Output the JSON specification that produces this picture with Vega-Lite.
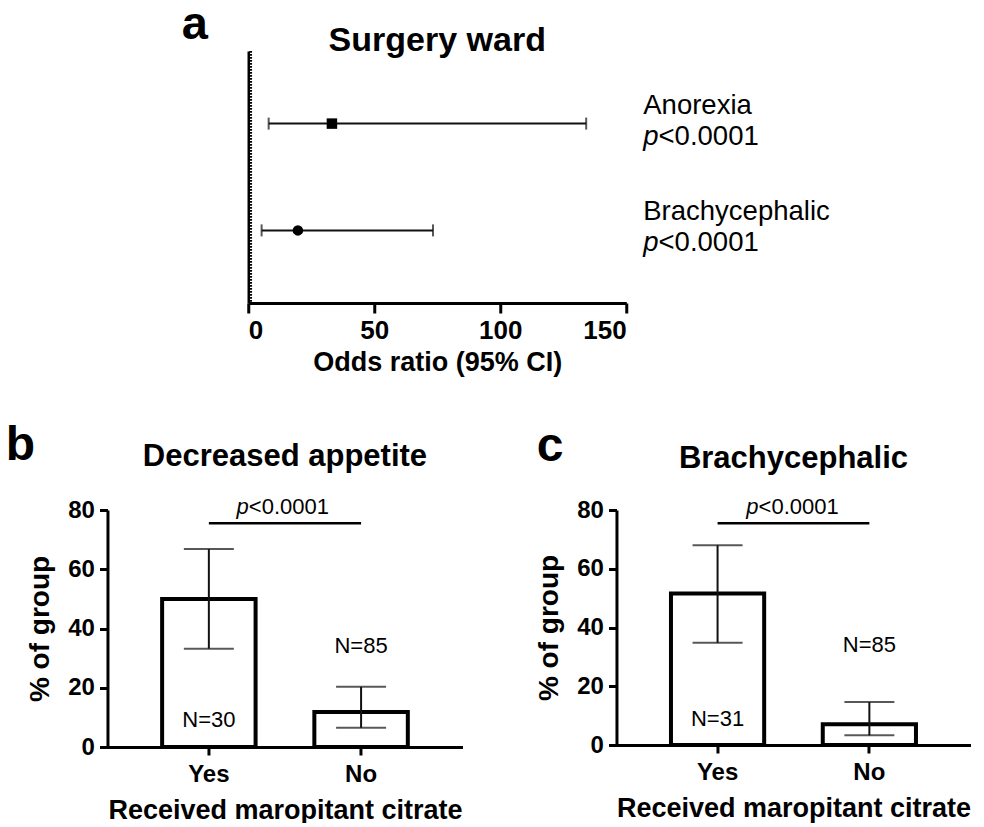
{
  "$schema": "https://vega.github.io/schema/vega-lite/v6.json",
  "background": "white",
  "padding": {"left": 5, "top": 1, "right": 0, "bottom": 0},
  "config": {
    "font": "Liberation Sans",
    "view": {"stroke": null},
    "axis": {"grid": false, "domainColor": "black", "domainWidth": 3, "tickColor": "black", "tickWidth": 3, "labelColor": "black", "labelFontWeight": "bold", "titleColor": "black", "titleFontWeight": "bold", "labelFont": "Liberation Sans", "titleFont": "Liberation Sans"},
    "title": {"color": "black", "fontWeight": "bold", "font": "Liberation Sans"},
    "text": {"font": "Liberation Sans", "color": "black"}
  },
  "datasets": {
    "forest": [
      {"outcome": "Anorexia", "odds_ratio": 33.2, "ci_low": 8.1, "ci_high": 134.1, "p": "<0.0001"},
      {"outcome": "Brachycephalic", "odds_ratio": 19.7, "ci_low": 5.3, "ci_high": 73.3, "p": "<0.0001"}
    ],
    "appetite": [
      {"received": "Yes", "percent": 50.0, "ci_low": 33.2, "ci_high": 66.8, "n": "N=30"},
      {"received": "No", "percent": 11.8, "ci_low": 6.5, "ci_high": 20.3, "n": "N=85"}
    ],
    "brachy": [
      {"received": "Yes", "percent": 51.6, "ci_low": 34.8, "ci_high": 68.0, "n": "N=31"},
      {"received": "No", "percent": 7.1, "ci_low": 3.3, "ci_high": 14.6, "n": "N=85"}
    ],
    "comparison": [
      {"group1": "Yes", "group2": "No", "p": "<0.0001"}
    ]
  },
  "center": true,
  "spacing": 46,
  "vconcat": [
    {
      "title": {"text": "a", "anchor": "start", "fontSize": 47, "baseline": "alphabetic", "dx": -65, "offset": -62},
      "vconcat": [
        {
          "width": 378,
          "height": 252,
          "title": {"text": "Surgery ward", "fontSize": 34, "baseline": "alphabetic", "offset": -35.5},
          "data": {"name": "forest"},
          "encoding": {
            "y": {"field": "outcome", "type": "nominal", "sort": ["Anorexia", "Brachycephalic"], "scale": {"type": "point", "padding": 0.68},
              "axis": {"title": null, "labels": false, "ticks": false, "domain": true, "domainWidth": 2.5}}
          },
          "layer": [
            {
              "mark": {"type": "rule", "strokeDash": [1.5, 1.5], "strokeWidth": 2.5, "color": "black"},
              "encoding": {
                "y": null,
                "x": {"datum": 1, "type": "quantitative", "scale": {"domain": [0, 150], "nice": false},
                  "axis": {"values": [0, 50, 100, 150], "title": "Odds ratio (95% CI)", "labelFontSize": 26, "titleFontSize": 27, "tickSize": 10, "labelPadding": 4, "titlePadding": 6}}
              }
            },
            {
              "mark": {"type": "rule", "strokeWidth": 2, "color": "#111"},
              "encoding": {
                "x": {"field": "ci_low", "type": "quantitative", "scale": {"domain": [0, 150], "nice": false}},
                "x2": {"field": "ci_high"}
              }
            },
            {
              "mark": {"type": "tick", "thickness": 2, "size": 12, "color": "#111"},
              "encoding": {
                "x": {"field": "ci_low", "type": "quantitative", "scale": {"domain": [0, 150], "nice": false}}
              }
            },
            {
              "mark": {"type": "tick", "thickness": 2, "size": 12, "color": "#111"},
              "encoding": {
                "x": {"field": "ci_high", "type": "quantitative", "scale": {"domain": [0, 150], "nice": false}}
              }
            },
            {
              "mark": {"type": "point", "filled": true, "opacity": 1, "color": "black", "size": 110},
              "encoding": {
                "x": {"field": "odds_ratio", "type": "quantitative", "scale": {"domain": [0, 150], "nice": false}},
                "shape": {"field": "outcome", "type": "nominal", "scale": {"domain": ["Anorexia", "Brachycephalic"], "range": ["square", "circle"]}, "legend": null}
              }
            },
            {
              "mark": {"type": "text", "align": "left", "baseline": "alphabetic", "dx": 17, "dy": -10, "fontSize": 27.5},
              "encoding": {
                "x": {"datum": 150, "type": "quantitative", "scale": {"domain": [0, 150], "nice": false}},
                "text": {"field": "outcome"}
              }
            },
            {
              "mark": {"type": "text", "align": "right", "baseline": "alphabetic", "dx": 32.3, "dy": 21, "fontSize": 27.5, "fontStyle": "italic"},
              "encoding": {
                "x": {"datum": 150, "type": "quantitative", "scale": {"domain": [0, 150], "nice": false}},
                "text": {"value": "p"}
              }
            },
            {
              "mark": {"type": "text", "align": "left", "baseline": "alphabetic", "dx": 32.3, "dy": 21, "fontSize": 27.5},
              "encoding": {
                "x": {"datum": 150, "type": "quantitative", "scale": {"domain": [0, 150], "nice": false}},
                "text": {"field": "p"}
              }
            }
          ]
        }
      ]
    },
    {
      "spacing": 73,
      "hconcat": [
        {
          "title": {"text": "b", "anchor": "start", "fontSize": 48, "baseline": "alphabetic", "dx": -21, "offset": -67},
          "vconcat": [
            {
              "width": 355,
              "height": 237,
              "title": {"text": "Decreased appetite", "fontSize": 31, "baseline": "alphabetic", "offset": -1},
              "encoding": {
                "x": {"field": "received", "type": "nominal", "scale": {"domain": ["Yes", "No"], "paddingInner": 0.386, "paddingOuter": 0.359},
                  "axis": {"title": "Received maropitant citrate", "labelAngle": 0, "labelFontSize": 24, "titleFontSize": 27, "tickSize": 8, "labelPadding": 7, "titlePadding": 11}}
              },
              "layer": [
                {
                  "data": {"name": "appetite"},
                  "mark": {"type": "bar", "fill": "white", "stroke": "black", "strokeWidth": 4},
                  "encoding": {
                    "y": {"field": "percent", "type": "quantitative", "scale": {"domain": [0, 80], "nice": false},
                      "axis": {"title": "% of group", "values": [0, 20, 40, 60, 80], "labelFontSize": 24, "titleFontSize": 28, "tickSize": 8, "labelPadding": 5, "titlePadding": 13}}
                  }
                },
                {
                  "data": {"name": "appetite"},
                  "mark": {"type": "rule", "strokeWidth": 2, "color": "#111"},
                  "encoding": {
                    "y": {"field": "ci_low", "type": "quantitative", "scale": {"domain": [0, 80], "nice": false}},
                    "y2": {"field": "ci_high"}
                  }
                },
                {
                  "data": {"name": "appetite"},
                  "mark": {"type": "tick", "thickness": 2, "size": 50, "color": "#111"},
                  "encoding": {
                    "y": {"field": "ci_low", "type": "quantitative", "scale": {"domain": [0, 80], "nice": false}}
                  }
                },
                {
                  "data": {"name": "appetite"},
                  "mark": {"type": "tick", "thickness": 2, "size": 50, "color": "#111"},
                  "encoding": {
                    "y": {"field": "ci_high", "type": "quantitative", "scale": {"domain": [0, 80], "nice": false}}
                  }
                },
                {
                  "data": {"name": "appetite"},
                  "transform": [{"filter": "datum.received === 'Yes'"}],
                  "mark": {"type": "text", "fontSize": 22, "baseline": "middle"},
                  "encoding": {
                    "y": {"datum": 9, "type": "quantitative", "scale": {"domain": [0, 80], "nice": false}},
                    "text": {"field": "n"}
                  }
                },
                {
                  "data": {"name": "appetite"},
                  "transform": [{"filter": "datum.received === 'No'"}],
                  "mark": {"type": "text", "fontSize": 22, "baseline": "middle"},
                  "encoding": {
                    "y": {"datum": 34, "type": "quantitative", "scale": {"domain": [0, 80], "nice": false}},
                    "text": {"field": "n"}
                  }
                },
                {
                  "data": {"name": "comparison"},
                  "mark": {"type": "rule", "strokeWidth": 2.5, "color": "black"},
                  "encoding": {
                    "x": {"field": "group1", "type": "nominal", "scale": {"domain": ["Yes", "No"]}},
                    "x2": {"field": "group2"},
                    "y": {"datum": 75.5, "type": "quantitative", "scale": {"domain": [0, 80], "nice": false}}
                  }
                },
                {
                  "data": {"name": "comparison"},
                  "mark": {"type": "text", "fontSize": 22, "fontStyle": "italic", "align": "right", "baseline": "alphabetic", "dx": 40, "dy": -9.5},
                  "encoding": {
                    "x": {"field": "group1", "type": "nominal", "scale": {"domain": ["Yes", "No"]}},
                    "y": {"datum": 75.5, "type": "quantitative", "scale": {"domain": [0, 80], "nice": false}},
                    "text": {"value": "p"}
                  }
                },
                {
                  "data": {"name": "comparison"},
                  "mark": {"type": "text", "fontSize": 22, "align": "left", "baseline": "alphabetic", "dx": 40, "dy": -9.5},
                  "encoding": {
                    "x": {"field": "group1", "type": "nominal", "scale": {"domain": ["Yes", "No"]}},
                    "y": {"datum": 75.5, "type": "quantitative", "scale": {"domain": [0, 80], "nice": false}},
                    "text": {"field": "p"}
                  }
                }
              ]
            }
          ]
        },
        {
          "title": {"text": "c", "anchor": "start", "fontSize": 48, "baseline": "alphabetic", "dx": 1, "offset": -66},
          "vconcat": [
            {
              "width": 354,
              "height": 235,
              "title": {"text": "Brachycephalic", "fontSize": 31, "baseline": "alphabetic", "offset": -3},
              "encoding": {
                "x": {"field": "received", "type": "nominal", "scale": {"domain": ["Yes", "No"], "paddingInner": 0.386, "paddingOuter": 0.359},
                  "axis": {"title": "Received maropitant citrate", "labelAngle": 0, "labelFontSize": 24, "titleFontSize": 27, "tickSize": 8, "labelPadding": 7, "titlePadding": 11}}
              },
              "layer": [
                {
                  "data": {"name": "brachy"},
                  "mark": {"type": "bar", "fill": "white", "stroke": "black", "strokeWidth": 4},
                  "encoding": {
                    "y": {"field": "percent", "type": "quantitative", "scale": {"domain": [0, 80], "nice": false},
                      "axis": {"title": "% of group", "values": [0, 20, 40, 60, 80], "labelFontSize": 24, "titleFontSize": 28, "tickSize": 8, "labelPadding": 5, "titlePadding": 13}}
                  }
                },
                {
                  "data": {"name": "brachy"},
                  "mark": {"type": "rule", "strokeWidth": 2, "color": "#111"},
                  "encoding": {
                    "y": {"field": "ci_low", "type": "quantitative", "scale": {"domain": [0, 80], "nice": false}},
                    "y2": {"field": "ci_high"}
                  }
                },
                {
                  "data": {"name": "brachy"},
                  "mark": {"type": "tick", "thickness": 2, "size": 50, "color": "#111"},
                  "encoding": {
                    "y": {"field": "ci_low", "type": "quantitative", "scale": {"domain": [0, 80], "nice": false}}
                  }
                },
                {
                  "data": {"name": "brachy"},
                  "mark": {"type": "tick", "thickness": 2, "size": 50, "color": "#111"},
                  "encoding": {
                    "y": {"field": "ci_high", "type": "quantitative", "scale": {"domain": [0, 80], "nice": false}}
                  }
                },
                {
                  "data": {"name": "brachy"},
                  "transform": [{"filter": "datum.received === 'Yes'"}],
                  "mark": {"type": "text", "fontSize": 22, "baseline": "middle"},
                  "encoding": {
                    "y": {"datum": 9, "type": "quantitative", "scale": {"domain": [0, 80], "nice": false}},
                    "text": {"field": "n"}
                  }
                },
                {
                  "data": {"name": "brachy"},
                  "transform": [{"filter": "datum.received === 'No'"}],
                  "mark": {"type": "text", "fontSize": 22, "baseline": "middle"},
                  "encoding": {
                    "y": {"datum": 34, "type": "quantitative", "scale": {"domain": [0, 80], "nice": false}},
                    "text": {"field": "n"}
                  }
                },
                {
                  "data": {"name": "comparison"},
                  "mark": {"type": "rule", "strokeWidth": 2.5, "color": "black"},
                  "encoding": {
                    "x": {"field": "group1", "type": "nominal", "scale": {"domain": ["Yes", "No"]}},
                    "x2": {"field": "group2"},
                    "y": {"datum": 75.5, "type": "quantitative", "scale": {"domain": [0, 80], "nice": false}}
                  }
                },
                {
                  "data": {"name": "comparison"},
                  "mark": {"type": "text", "fontSize": 22, "fontStyle": "italic", "align": "right", "baseline": "alphabetic", "dx": 41, "dy": -9.5},
                  "encoding": {
                    "x": {"field": "group1", "type": "nominal", "scale": {"domain": ["Yes", "No"]}},
                    "y": {"datum": 75.5, "type": "quantitative", "scale": {"domain": [0, 80], "nice": false}},
                    "text": {"value": "p"}
                  }
                },
                {
                  "data": {"name": "comparison"},
                  "mark": {"type": "text", "fontSize": 22, "align": "left", "baseline": "alphabetic", "dx": 41, "dy": -9.5},
                  "encoding": {
                    "x": {"field": "group1", "type": "nominal", "scale": {"domain": ["Yes", "No"]}},
                    "y": {"datum": 75.5, "type": "quantitative", "scale": {"domain": [0, 80], "nice": false}},
                    "text": {"field": "p"}
                  }
                }
              ]
            }
          ]
        }
      ]
    }
  ]
}
